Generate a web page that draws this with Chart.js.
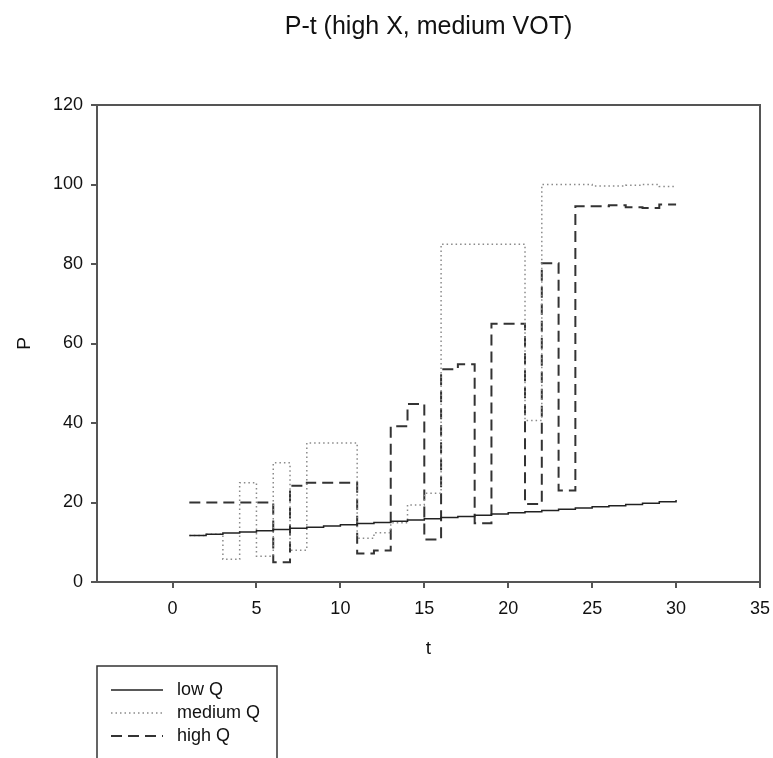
<!DOCTYPE html>
<html>
<head>
<meta charset="utf-8">
<script src="https://cdn.jsdelivr.net/npm/chart.js@4.4.1/dist/chart.umd.min.js"></script>
<style>
    html, body { margin: 0; padding: 0; background: #fff; }
    #wrap { width: 773px; height: 758px; }
</style>
</head>
<body>
<div id="wrap"><canvas id="chart" width="773" height="758"></canvas></div>
<script>
const tValues = [1, 2, 3, 4, 5, 6, 7, 8, 9, 10, 11, 12, 13, 14, 15, 16, 17, 18, 19, 20, 21, 22, 23, 24, 25, 26, 27, 28, 29, 30];
const lowQ = [11.7, 12.0, 12.3, 12.6, 12.9, 13.2, 13.5, 13.8, 14.1, 14.4, 14.7, 15.0, 15.3, 15.6, 15.9,
    16.2, 16.5, 16.8, 17.1, 17.4, 17.7, 18.0, 18.3, 18.6, 18.9, 19.2, 19.5, 19.8, 20.2, 20.6];
const mediumQ = [11.7, 12.0, 5.7, 25.0, 6.5, 30.0, 8.0, 35.0, 35.0, 35.0, 11.0, 12.4, 14.9, 19.4, 22.3,
    85.0, 85.0, 85.0, 85.0, 85.0, 40.6, 100.0, 100.0, 100.0, 99.6, 99.6, 99.8, 100.0, 99.5, 99.5];
const highQ = [20.0, 20.0, 20.0, 20.0, 20.0, 5.0, 24.2, 25.0, 25.0, 25.0, 7.2, 7.9, 39.2, 44.8, 10.7,
    53.5, 54.8, 14.8, 65.0, 65.0, 19.6, 80.2, 23.0, 94.5, 94.5, 94.8, 94.3, 94.1, 95.0, 95.0];
const seriesNames = ['low Q', 'medium Q', 'high Q'];
const xTicks = [0, 5, 10, 15, 20, 25, 30, 35];
const yTicks = [0, 20, 40, 60, 80, 100, 120];

const FONT = "'Liberation Sans', Arial, sans-serif";
const AXIS = '#555';

function points(values) {
    return tValues.map(function (t, i) { return { x: t, y: values[i] }; });
}

const styles = [
    { borderColor: '#222', borderWidth: 1.5, borderDash: [] },
    { borderColor: '#8a8a8a', borderWidth: 1.5, borderDash: [1.5, 3] },
    { borderColor: '#333', borderWidth: 2, borderDash: [11, 6] }
];

const datasets = [lowQ, mediumQ, highQ].map(function (values, i) {
    return Object.assign({
        label: seriesNames[i],
        data: points(values),
        stepped: true,
        pointRadius: 0,
        fill: false
    }, styles[i]);
});

const decorations = {
    id: 'decorations',
    afterDraw: function (chart) {
        const ctx = chart.ctx;
        const area = chart.chartArea;
        ctx.save();
        // frame around the plot
        ctx.strokeStyle = AXIS;
        ctx.lineWidth = 2;
        ctx.strokeRect(area.left, area.top, area.right - area.left, area.bottom - area.top);

        ctx.fillStyle = '#111';
        ctx.textAlign = 'center';
        ctx.textBaseline = 'middle';
        ctx.font = '25px ' + FONT;
        ctx.fillText('P-t (high X, medium VOT)', (area.left + area.right) / 2, 27);

        ctx.font = '19px ' + FONT;
        ctx.fillText('t', (area.left + area.right) / 2, 649);
        ctx.save();
        ctx.translate(25, (area.top + area.bottom) / 2);
        ctx.rotate(-Math.PI / 2);
        ctx.fillText('P', 0, 0);
        ctx.restore();

        // legend
        ctx.strokeStyle = '#333';
        ctx.lineWidth = 1.5;
        ctx.strokeRect(97, 666, 180, 120);
        ctx.font = '18px ' + FONT;
        ctx.textAlign = 'left';
        chart.data.datasets.forEach(function (ds, i) {
            const y = 690 + i * 23;
            ctx.beginPath();
            ctx.strokeStyle = ds.borderColor;
            ctx.lineWidth = ds.borderWidth;
            ctx.setLineDash(ds.borderDash);
            ctx.moveTo(111, y);
            ctx.lineTo(163, y);
            ctx.stroke();
            ctx.setLineDash([]);
            ctx.fillText(ds.label, 177, y);
        });
        ctx.restore();
    }
};

new Chart(document.getElementById('chart'), {
    type: 'line',
    data: { datasets: datasets },
    options: {
        responsive: false,
        animation: false,
        layout: { padding: { left: 0, top: 105, right: 13, bottom: 126 } },
        plugins: { legend: { display: false }, tooltip: { enabled: false }, title: { display: false } },
        scales: {
            x: {
                type: 'linear',
                min: -4.5,
                max: 35,
                afterBuildTicks: function (scale) { scale.ticks = xTicks.map(function (v) { return { value: v }; }); },
                afterFit: function (scale) {
                    scale.height = 50;
                    scale.paddingLeft = 0;
                    scale.paddingRight = 0;
                },
                border: { display: true, color: AXIS, width: 2 },
                grid: { drawOnChartArea: false, drawTicks: true, tickLength: 6, color: AXIS, lineWidth: 2 },
                ticks: { padding: 10, color: '#111', font: { family: FONT, size: 18 }, maxRotation: 0 }
            },
            y: {
                type: 'linear',
                min: 0,
                max: 120,
                afterBuildTicks: function (scale) { scale.ticks = yTicks.map(function (v) { return { value: v }; }); },
                afterFit: function (scale) {
                    scale.width = 97;
                    scale.paddingTop = 0;
                    scale.paddingBottom = 0;
                },
                border: { display: true, color: AXIS, width: 2 },
                grid: { drawOnChartArea: false, drawTicks: true, tickLength: 6, color: AXIS, lineWidth: 2 },
                ticks: { padding: 8, color: '#111', font: { family: FONT, size: 18 } }
            }
        }
    },
    plugins: [decorations]
});
</script>
</body>
</html>
